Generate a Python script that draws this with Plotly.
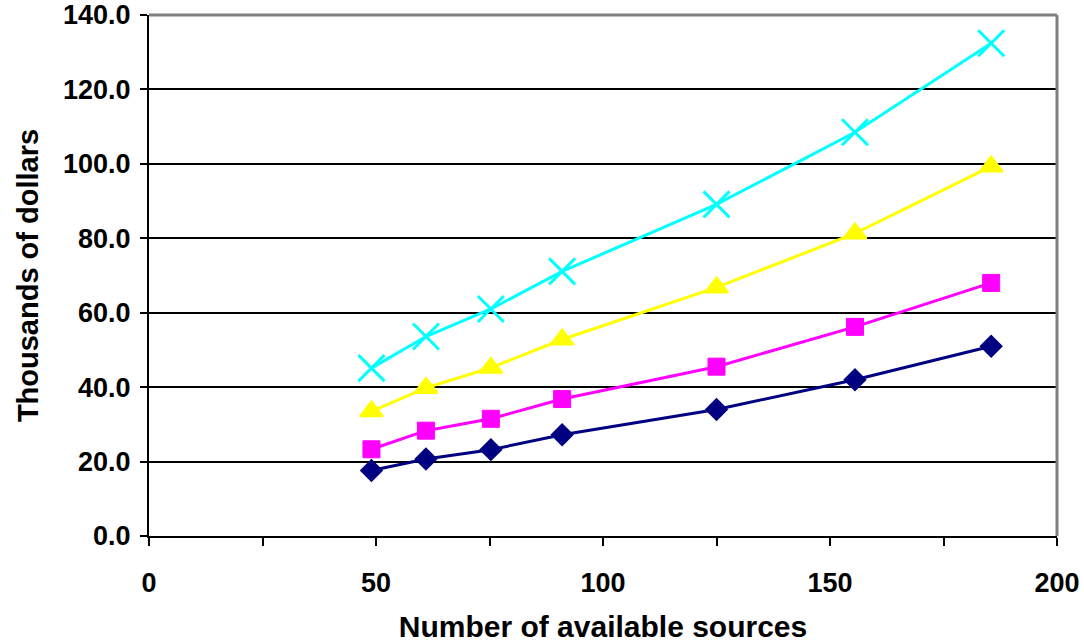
import plotly.graph_objects as go

sources = [49, 61, 75.3, 91, 125, 155.5, 185.5]
series1 = [17.6, 20.7, 23.2, 27.2, 34.0, 42.0, 51.0]
series2 = [23.3, 28.3, 31.5, 36.8, 45.5, 56.2, 68.0]
series3 = [33.5, 39.8, 45.2, 52.8, 66.8, 81.3, 99.3]
series4 = [45.1, 53.6, 61.0, 71.1, 89.1, 108.5, 132.4]

x_ticks = [0, 25, 50, 75, 100, 125, 150, 175, 200]
x_ticktext = ["0", "", "50", "", "100", "", "150", "", "200"]
y_ticks = [0, 20, 40, 60, 80, 100, 120, 140]

FAM = "Liberation Sans, Arial, sans-serif"

fig = go.Figure()
fig.add_trace(go.Scatter(x=sources, y=series1, mode="lines+markers",
                         line=dict(color="#000080", width=3),
                         marker=dict(symbol="diamond", size=18, color="#000080")))
fig.add_trace(go.Scatter(x=sources, y=series2, mode="lines+markers",
                         line=dict(color="#FF00FF", width=3),
                         marker=dict(symbol="square", size=17, color="#FF00FF",
                                     line=dict(color="#FF00FF", width=1))))
fig.add_trace(go.Scatter(x=sources, y=series3, mode="lines+markers",
                         line=dict(color="#FFFF00", width=3),
                         marker=dict(symbol="triangle-up", size=20, color="#FFFF00",
                                     line=dict(color="#FFFF00", width=2))))
fig.add_trace(go.Scatter(x=sources, y=series4, mode="lines+markers",
                         line=dict(color="#00FFFF", width=3),
                         marker=dict(symbol="x-thin-open", size=26,
                                     line=dict(color="#00FFFF", width=3))))

fig.update_layout(
    width=1084, height=643,
    margin=dict(l=149, r=27, t=15, b=107),
    paper_bgcolor="white", plot_bgcolor="white",
    showlegend=False,
    font=dict(family=FAM, size=20, color="black"),
    xaxis=dict(range=[0, 200], tickvals=x_ticks, ticktext=x_ticktext,
               ticks="outside", ticklen=8, tickwidth=2, tickcolor="black",
               showline=True, linecolor="black", linewidth=2,
               showgrid=False, zeroline=False, automargin=False,
               tickfont=dict(family=FAM, size=27, color="black", weight="bold"),
               ticklabelstandoff=14,
               title=dict(text="<b>Number of available sources</b>",
                          font=dict(family=FAM, size=30, color="black"),
                          standoff=26)),
    yaxis=dict(range=[0, 140], tickvals=y_ticks, tickformat=".1f",
               ticks="outside", ticklen=7, tickwidth=2, tickcolor="black",
               showline=True, linecolor="black", linewidth=2,
               showgrid=True, gridcolor="black", gridwidth=1.5,
               zeroline=False, automargin=False,
               tickfont=dict(family=FAM, size=27, color="black", weight="bold"),
               ticklabelstandoff=4,
               title=dict(text="<b>Thousands of dollars</b>",
                          font=dict(family=FAM, size=29, color="black"),
                          standoff=16)),
    shapes=[
        dict(type="line", xref="paper", yref="paper", x0=0, x1=1, y0=1, y1=1,
             line=dict(color="#808080", width=3), layer="above"),
        dict(type="line", xref="paper", yref="paper", x0=1, x1=1, y0=0, y1=1,
             line=dict(color="#808080", width=3), layer="above"),
    ],
)

fig.write_html("out.html")
